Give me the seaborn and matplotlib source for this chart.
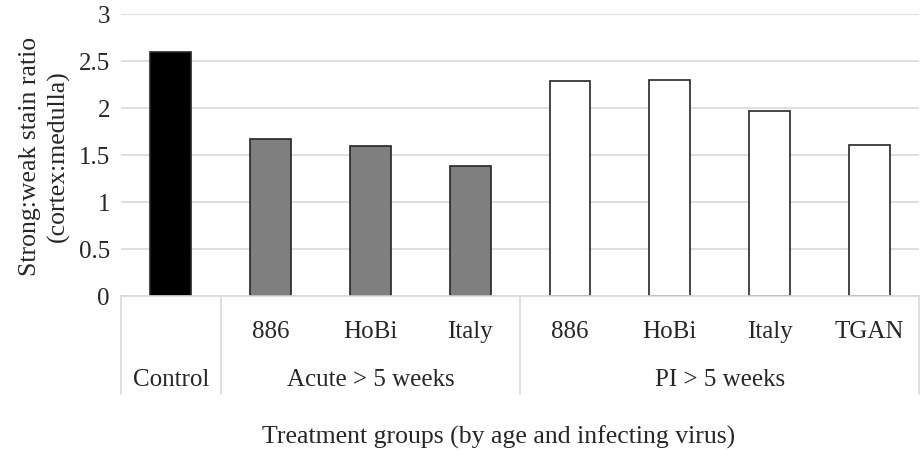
import pandas as pd
import matplotlib
matplotlib.use("Agg")
import matplotlib.pyplot as plt
import seaborn as sns

# valores
bar_keys = ["Control", "Acute 886", "Acute HoBi", "Acute Italy",
            "PI 886", "PI HoBi", "PI Italy", "PI TGAN"]
sub_labels = ["", "886", "HoBi", "Italy", "886", "HoBi", "Italy", "TGAN"]
ratios = [2.59, 1.67, 1.60, 1.38, 2.29, 2.30, 1.97, 1.61]
groups = ["Control", "Acute > 5 weeks", "PI > 5 weeks"]
group_spans = [(0, 0), (1, 3), (4, 7)]
fill_colors = ["#000000", "#7f7f7f", "#7f7f7f", "#7f7f7f",
               "#ffffff", "#ffffff", "#ffffff", "#ffffff"]

df = pd.DataFrame({"key": bar_keys, "ratio": ratios})

sns.set_style("white")
plt.rcParams["font.family"] = ["Liberation Serif", "DejaVu Serif"]

fig = plt.figure(figsize=(9.21, 4.52), dpi=100)
ax = fig.add_axes([0.1314, 0.343, 0.8666, 0.624])

sns.barplot(data=df, x="key", y="ratio", hue="key", order=bar_keys,
            palette=dict(zip(bar_keys, fill_colors)), legend=False,
            width=0.41, saturation=1, edgecolor="#262626", linewidth=1.2, ax=ax)

ax.set_xlim(-0.5, 7.5)
ax.set_ylim(0, 3)
ax.set_yticks([0, 0.5, 1, 1.5, 2, 2.5, 3])
ax.set_yticklabels(["0", "0.5", "1", "1.5", "2", "2.5", "3"], fontsize=18)
ax.tick_params(axis="y", length=0, pad=8)
ax.set_xticks([])
ax.set_xlabel("")
ax.set_ylabel("Strong:weak stain ratio\n(cortex:medulla)", fontsize=18.5, linespacing=1.35)
ax.yaxis.set_label_coords(-0.064, 0.5)
ax.grid(axis="y", color="#d9d9d9", linewidth=1.2)
ax.set_axisbelow(True)
for s in ax.spines.values():
    s.set_visible(False)

# eixo de categorias em dois niveis (estilo excel)
trans = ax.get_xaxis_transform()
ax.plot([-0.5, 7.5], [0, 0], color="#d9d9d9", lw=1.2, transform=trans, clip_on=False)
for xs in [-0.5, 0.5, 3.5, 7.5]:
    ax.plot([xs, xs], [0, -0.348], color="#d9d9d9", lw=1.2, transform=trans, clip_on=False)

for i, lab in enumerate(sub_labels):
    if lab:
        ax.text(i, -0.124, lab, transform=trans, ha="center", va="center", fontsize=18)
for g, (a, b) in zip(groups, group_spans):
    ax.text((a + b) / 2, -0.294, g, transform=trans, ha="center", va="center", fontsize=18)

fig.text(0.541, 0.033, "Treatment groups (by age and infecting virus)",
         ha="center", va="center", fontsize=18.5)

fig.savefig("out.png", dpi=100)
